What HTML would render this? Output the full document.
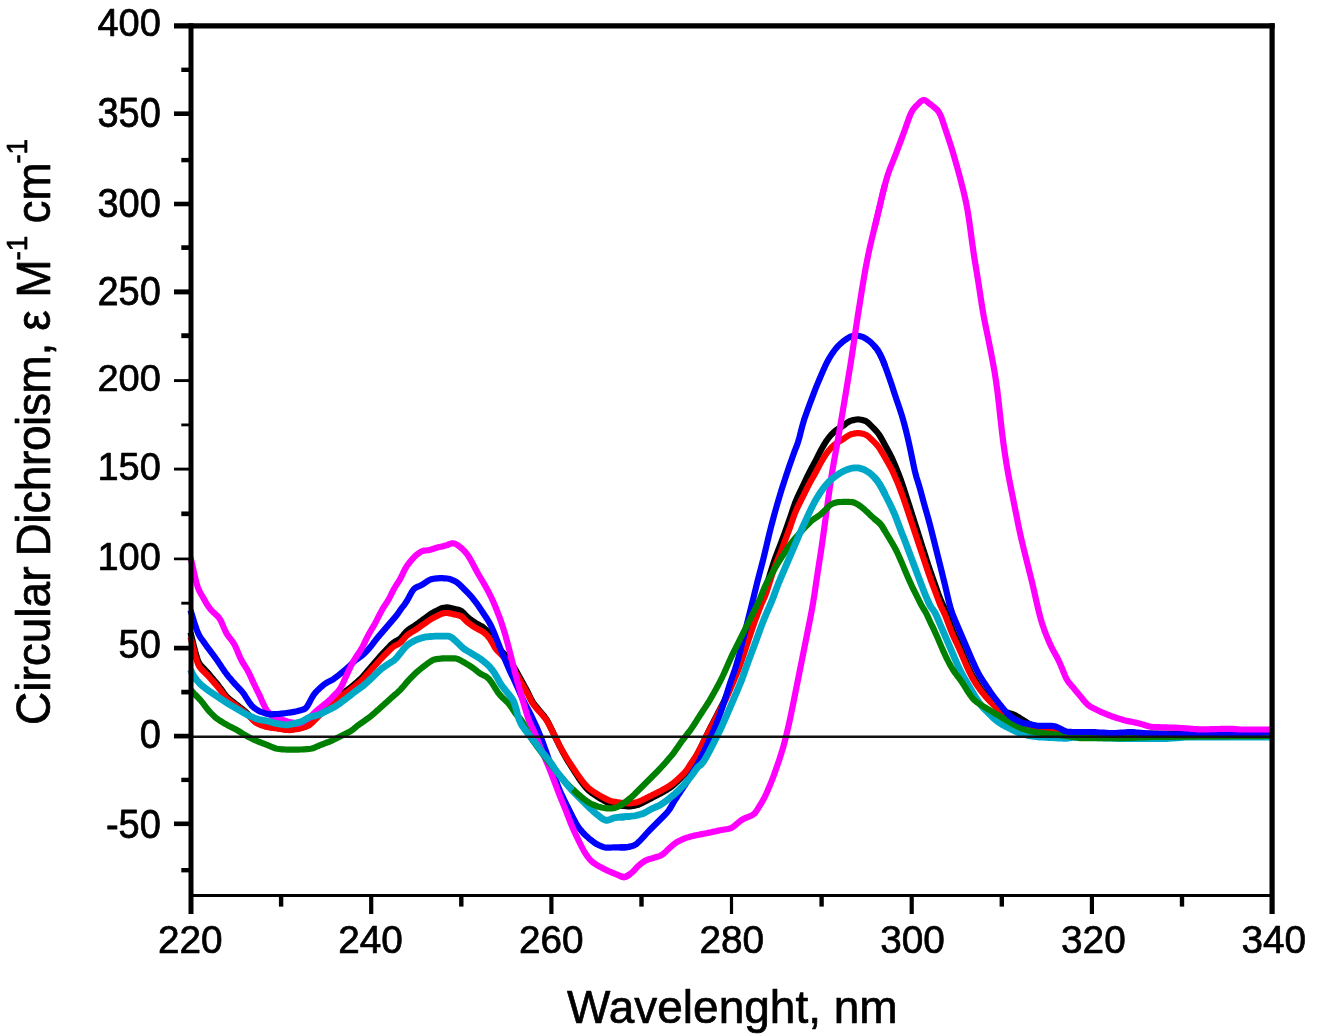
<!DOCTYPE html>
<html lang="en"><head><meta charset="utf-8"><title>Circular Dichroism</title>
<style>html,body{margin:0;padding:0;background:#fff}svg{display:block}</style></head>
<body>
<svg width="1318" height="1036" viewBox="0 0 1318 1036">
<rect width="1318" height="1036" fill="#ffffff"/>
<g fill="none" stroke-width="6.2" stroke-linejoin="round" stroke-linecap="butt">
<polyline stroke="#000000" points="190.5,632.5 192.0,638.6 193.5,644.7 195.0,650.8 196.5,656.3 198.0,660.7 199.5,663.6 201.0,665.6 202.5,667.2 204.0,668.7 205.5,670.3 207.0,671.9 208.5,673.6 210.0,675.4 211.5,677.2 213.0,678.9 214.5,680.7 216.0,682.5 217.5,684.3 219.0,686.3 220.5,688.3 222.0,690.4 223.5,692.6 225.0,694.6 226.5,696.4 228.0,697.8 229.5,699.1 231.0,700.3 232.5,701.4 234.0,702.6 235.5,703.8 237.0,705.0 238.5,706.1 240.0,707.3 241.5,708.5 243.0,709.7 244.5,710.9 246.0,712.2 247.5,713.6 249.0,715.1 250.5,716.7 252.0,718.2 253.5,719.8 255.0,721.2 256.5,722.4 258.0,723.3 259.5,723.9 261.0,724.5 262.5,725.1 264.0,725.7 265.5,726.2 267.0,726.6 268.5,726.9 270.0,727.1 271.5,727.3 273.0,727.5 274.5,727.7 276.0,727.9 277.5,728.1 279.0,728.4 280.5,728.6 282.0,728.9 283.5,729.1 285.0,729.4 286.5,729.6 288.0,729.8 289.5,729.8 291.0,729.7 292.5,729.4 294.0,729.2 295.5,729.0 297.0,728.7 298.5,728.4 300.0,728.1 301.5,727.6 303.0,727.2 304.5,726.7 306.0,726.2 307.5,725.6 309.0,724.8 310.5,723.6 312.0,722.1 313.5,720.5 315.0,719.0 316.5,717.4 318.0,715.8 319.5,714.3 321.0,712.8 322.5,711.4 324.0,710.0 325.5,708.7 327.0,707.4 328.5,706.0 330.0,704.6 331.5,703.0 333.0,701.5 334.5,700.0 336.0,698.5 337.5,697.3 339.0,696.1 340.5,695.1 342.0,694.0 343.5,692.8 345.0,691.7 346.5,690.6 348.0,689.4 349.5,688.3 351.0,687.1 352.5,685.9 354.0,684.7 355.5,683.4 357.0,682.1 358.5,680.7 360.0,679.4 361.5,677.9 363.0,676.3 364.5,674.6 366.0,672.9 367.5,671.1 369.0,669.3 370.5,667.6 372.0,665.8 373.5,664.1 375.0,662.3 376.5,660.6 378.0,658.9 379.5,657.1 381.0,655.4 382.5,653.7 384.0,652.1 385.5,650.5 387.0,648.9 388.5,647.4 390.0,645.8 391.5,644.3 393.0,643.0 394.5,641.9 396.0,641.1 397.5,640.4 399.0,639.5 400.5,638.3 402.0,636.7 403.5,634.8 405.0,633.0 406.5,631.3 408.0,630.0 409.5,628.9 411.0,628.0 412.5,627.0 414.0,626.1 415.5,625.1 417.0,624.0 418.5,622.9 420.0,621.8 421.5,620.7 423.0,619.6 424.5,618.5 426.0,617.4 427.5,616.3 429.0,615.2 430.5,614.2 432.0,613.2 433.5,612.3 435.0,611.5 436.5,610.7 438.0,610.0 439.5,609.2 441.0,608.5 442.5,608.0 444.0,607.7 445.5,607.5 447.0,607.4 448.5,607.6 450.0,607.9 451.5,608.2 453.0,608.6 454.5,608.9 456.0,609.3 457.5,609.6 459.0,610.0 460.5,610.6 462.0,611.5 463.5,612.8 465.0,614.5 466.5,616.1 468.0,617.5 469.5,618.7 471.0,619.8 472.5,620.9 474.0,621.9 475.5,622.9 477.0,623.8 478.5,624.6 480.0,625.4 481.5,626.2 483.0,627.2 484.5,628.4 486.0,629.8 487.5,631.4 489.0,633.2 490.5,635.4 492.0,638.1 493.5,640.9 495.0,643.6 496.5,645.8 498.0,647.6 499.5,649.1 501.0,650.7 502.5,652.3 504.0,653.8 505.5,655.4 507.0,657.1 508.5,658.9 510.0,661.0 511.5,663.2 513.0,665.6 514.5,668.0 516.0,670.6 517.5,673.2 519.0,675.9 520.5,678.7 522.0,681.4 523.5,684.2 525.0,686.9 526.5,689.7 528.0,692.7 529.5,695.8 531.0,698.9 532.5,701.6 534.0,703.9 535.5,705.8 537.0,707.6 538.5,709.4 540.0,711.2 541.5,713.0 543.0,714.8 544.5,716.6 546.0,718.7 547.5,721.2 549.0,724.0 550.5,727.1 552.0,730.2 553.5,733.3 555.0,736.5 556.5,739.6 558.0,742.7 559.5,745.8 561.0,748.7 562.5,751.5 564.0,754.3 565.5,757.0 567.0,759.6 568.5,762.0 570.0,764.4 571.5,766.8 573.0,769.1 574.5,771.5 576.0,773.8 577.5,776.2 579.0,778.5 580.5,780.6 582.0,782.7 583.5,784.7 585.0,786.6 586.5,788.3 588.0,789.8 589.5,791.1 591.0,792.3 592.5,793.5 594.0,794.5 595.5,795.5 597.0,796.5 598.5,797.4 600.0,798.4 601.5,799.3 603.0,800.1 604.5,800.9 606.0,801.7 607.5,802.5 609.0,803.2 610.5,803.8 612.0,804.2 613.5,804.5 615.0,804.8 616.5,805.0 618.0,805.3 619.5,805.5 621.0,805.7 622.5,805.9 624.0,806.0 625.5,806.1 627.0,806.3 628.5,806.4 630.0,806.4 631.5,806.2 633.0,806.0 634.5,805.7 636.0,805.3 637.5,805.0 639.0,804.5 640.5,803.8 642.0,803.1 643.5,802.3 645.0,801.5 646.5,800.7 648.0,799.9 649.5,799.1 651.0,798.4 652.5,797.6 654.0,796.8 655.5,796.0 657.0,795.2 658.5,794.4 660.0,793.7 661.5,792.9 663.0,792.0 664.5,791.2 666.0,790.3 667.5,789.3 669.0,788.4 670.5,787.4 672.0,786.3 673.5,785.1 675.0,783.7 676.5,782.3 678.0,780.9 679.5,779.4 681.0,778.0 682.5,776.4 684.0,774.9 685.5,773.1 687.0,771.2 688.5,768.8 690.0,766.3 691.5,763.9 693.0,761.6 694.5,759.3 696.0,756.8 697.5,754.1 699.0,751.2 700.5,748.1 702.0,745.0 703.5,741.8 705.0,738.7 706.5,735.6 708.0,732.5 709.5,729.5 711.0,726.5 712.5,723.6 714.0,720.7 715.5,717.8 717.0,714.9 718.5,712.0 720.0,709.1 721.5,706.2 723.0,703.3 724.5,700.3 726.0,697.1 727.5,693.7 729.0,690.1 730.5,686.5 732.0,682.8 733.5,679.1 735.0,675.3 736.5,671.5 738.0,667.6 739.5,663.5 741.0,659.2 742.5,654.6 744.0,649.9 745.5,645.2 747.0,640.5 748.5,635.8 750.0,631.1 751.5,626.4 753.0,621.7 754.5,617.2 756.0,612.8 757.5,608.6 759.0,604.4 760.5,600.5 762.0,596.8 763.5,593.4 765.0,589.9 766.5,585.7 768.0,581.0 769.5,575.9 771.0,570.9 772.5,566.1 774.0,561.6 775.5,557.3 777.0,553.3 778.5,549.5 780.0,545.7 781.5,541.7 783.0,537.6 784.5,533.5 786.0,529.3 787.5,525.1 789.0,520.8 790.5,516.4 792.0,511.9 793.5,507.4 795.0,503.2 796.5,499.4 798.0,496.0 799.5,492.9 801.0,489.7 802.5,486.6 804.0,483.5 805.5,480.3 807.0,477.2 808.5,474.1 810.0,471.1 811.5,468.3 813.0,465.6 814.5,462.8 816.0,460.0 817.5,457.0 819.0,453.9 820.5,451.0 822.0,448.2 823.5,445.6 825.0,443.1 826.5,440.8 828.0,438.7 829.5,436.8 831.0,435.0 832.5,433.5 834.0,432.0 835.5,430.7 837.0,429.6 838.5,428.6 840.0,427.7 841.5,426.8 843.0,425.8 844.5,424.8 846.0,423.6 847.5,422.5 849.0,421.6 850.5,420.9 852.0,420.4 853.5,420.1 855.0,419.8 856.5,419.5 858.0,419.4 859.5,419.5 861.0,419.8 862.5,420.1 864.0,420.5 865.5,421.0 867.0,421.9 868.5,423.2 870.0,424.6 871.5,426.1 873.0,427.6 874.5,429.2 876.0,430.8 877.5,432.5 879.0,434.5 880.5,436.9 882.0,439.5 883.5,442.3 885.0,445.0 886.5,447.8 888.0,450.5 889.5,453.3 891.0,456.2 892.5,459.3 894.0,462.7 895.5,466.3 897.0,469.9 898.5,473.7 900.0,477.6 901.5,481.8 903.0,486.3 904.5,490.8 906.0,495.4 907.5,500.1 909.0,504.8 910.5,509.5 912.0,514.2 913.5,518.9 915.0,523.6 916.5,528.3 918.0,533.0 919.5,537.7 921.0,542.4 922.5,547.1 924.0,551.8 925.5,556.5 927.0,561.2 928.5,565.8 930.0,570.3 931.5,574.6 933.0,578.8 934.5,583.0 936.0,587.2 937.5,591.5 939.0,595.7 940.5,599.6 942.0,602.9 943.5,606.0 945.0,609.5 946.5,613.4 948.0,617.5 949.5,621.7 951.0,625.8 952.5,629.7 954.0,633.3 955.5,636.6 957.0,639.9 958.5,643.3 960.0,646.8 961.5,650.4 963.0,654.1 964.5,657.7 966.0,661.3 967.5,664.9 969.0,668.2 970.5,671.4 972.0,674.4 973.5,677.2 975.0,679.7 976.5,682.2 978.0,684.5 979.5,686.7 981.0,688.8 982.5,690.8 984.0,692.7 985.5,694.6 987.0,696.2 988.5,697.8 990.0,699.3 991.5,700.8 993.0,702.3 994.5,703.7 996.0,705.1 997.5,706.5 999.0,707.7 1000.5,708.9 1002.0,710.0 1003.5,711.0 1005.0,711.7 1006.5,712.3 1008.0,712.7 1009.5,713.2 1011.0,713.6 1012.5,714.1 1014.0,714.7 1015.5,715.4 1017.0,716.3 1018.5,717.2 1020.0,718.2 1021.5,719.1 1023.0,720.0 1024.5,721.0 1026.0,721.9 1027.5,722.8 1029.0,723.7 1030.5,724.4 1032.0,725.0 1033.5,725.6 1035.0,726.1 1036.5,726.6 1038.0,727.2 1039.5,727.7 1041.0,728.2 1042.5,728.7 1044.0,729.2 1045.5,729.7 1047.0,730.2 1048.5,730.5 1050.0,730.9 1051.5,731.2 1053.0,731.5 1054.5,731.8 1056.0,732.2 1057.5,732.5 1059.0,732.8 1060.5,733.1 1062.0,733.4 1063.5,733.7 1065.0,734.0 1066.5,734.1 1068.0,734.0 1069.5,733.9 1071.0,733.7 1072.5,733.6 1074.0,733.4 1075.5,733.3 1077.0,733.3 1078.5,733.3 1080.0,733.3 1081.5,733.3 1083.0,733.3 1084.5,733.3 1086.0,733.3 1087.5,733.3 1089.0,733.4 1090.5,733.4 1092.0,733.4 1093.5,733.4 1095.0,733.4 1096.5,733.4 1098.0,733.4 1099.5,733.5 1101.0,733.5 1102.5,733.5 1104.0,733.5 1105.5,733.5 1107.0,733.5 1108.5,733.6 1110.0,733.6 1111.5,733.6 1113.0,733.6 1114.5,733.6 1116.0,733.6 1117.5,733.6 1119.0,733.7 1120.5,733.7 1122.0,733.7 1123.5,733.7 1125.0,733.7 1126.5,733.7 1128.0,733.7 1129.5,733.7 1131.0,733.7 1132.5,733.7 1134.0,733.7 1135.5,733.7 1137.0,733.7 1138.5,733.7 1140.0,733.7 1141.5,733.7 1143.0,733.7 1144.5,733.7 1146.0,733.7 1147.5,733.7 1149.0,733.7 1150.5,733.7 1152.0,733.7 1153.5,733.7 1155.0,733.7 1156.5,733.7 1158.0,733.7 1159.5,733.7 1161.0,733.7 1162.5,733.7 1164.0,733.7 1165.5,733.7 1167.0,733.7 1168.5,733.7 1170.0,733.7 1171.5,733.7 1173.0,733.7 1174.5,733.7 1176.0,733.7 1177.5,733.7 1179.0,733.7 1180.5,733.7 1182.0,733.7 1183.5,733.7 1185.0,733.7 1186.5,733.7 1188.0,733.7 1189.5,733.7 1191.0,733.7 1192.5,733.7 1194.0,733.7 1195.5,733.7 1197.0,733.7 1198.5,733.7 1200.0,733.7 1201.5,733.7 1203.0,733.7 1204.5,733.7 1206.0,733.7 1207.5,733.7 1209.0,733.7 1210.5,733.7 1212.0,733.7 1213.5,733.7 1215.0,733.7 1216.5,733.7 1218.0,733.7 1219.5,733.7 1221.0,733.7 1222.5,733.7 1224.0,733.7 1225.5,733.7 1227.0,733.7 1228.5,733.7 1230.0,733.7 1231.5,733.7 1233.0,733.7 1234.5,733.8 1236.0,733.8 1237.5,733.8 1239.0,733.8 1240.5,733.8 1242.0,733.8 1243.5,733.8 1245.0,733.8 1246.5,733.8 1248.0,733.8 1249.5,733.9 1251.0,733.9 1252.5,733.9 1254.0,733.9 1255.5,733.9 1257.0,733.9 1258.5,733.9 1260.0,733.9 1261.5,733.9 1263.0,733.9 1264.5,734.0 1266.0,734.0 1267.5,734.0 1269.0,734.0 1270.5,734.0"/>
<polyline stroke="#ff0000" points="190.5,636.9 192.0,642.8 193.5,648.7 195.0,654.5 196.5,659.8 198.0,664.0 199.5,666.8 201.0,668.7 202.5,670.2 204.0,671.7 205.5,673.2 207.0,674.7 208.5,676.3 210.0,678.0 211.5,679.7 213.0,681.4 214.5,683.1 216.0,684.8 217.5,686.6 219.0,688.4 220.5,690.3 222.0,692.4 223.5,694.4 225.0,696.4 226.5,698.1 228.0,699.5 229.5,700.7 231.0,701.8 232.5,702.9 234.0,704.1 235.5,705.2 237.0,706.3 238.5,707.4 240.0,708.6 241.5,709.7 243.0,710.8 244.5,712.0 246.0,713.2 247.5,714.6 249.0,716.0 250.5,717.5 252.0,719.0 253.5,720.5 255.0,721.9 256.5,723.0 258.0,723.8 259.5,724.5 261.0,725.0 262.5,725.6 264.0,726.1 265.5,726.6 267.0,727.0 268.5,727.3 270.0,727.5 271.5,727.7 273.0,727.9 274.5,728.1 276.0,728.3 277.5,728.5 279.0,728.7 280.5,728.9 282.0,729.2 283.5,729.4 285.0,729.7 286.5,729.9 288.0,730.0 289.5,730.1 291.0,729.9 292.5,729.7 294.0,729.5 295.5,729.3 297.0,729.1 298.5,728.8 300.0,728.4 301.5,728.0 303.0,727.6 304.5,727.1 306.0,726.7 307.5,726.1 309.0,725.3 310.5,724.1 312.0,722.7 313.5,721.2 315.0,719.7 316.5,718.2 318.0,716.7 319.5,715.2 321.0,713.8 322.5,712.4 324.0,711.1 325.5,709.9 327.0,708.6 328.5,707.3 330.0,705.9 331.5,704.5 333.0,703.0 334.5,701.5 336.0,700.2 337.5,699.0 339.0,697.9 340.5,696.8 342.0,695.8 343.5,694.7 345.0,693.6 346.5,692.5 348.0,691.4 349.5,690.3 351.0,689.2 352.5,688.1 354.0,686.9 355.5,685.7 357.0,684.4 358.5,683.1 360.0,681.8 361.5,680.4 363.0,678.9 364.5,677.3 366.0,675.6 367.5,673.9 369.0,672.2 370.5,670.5 372.0,668.9 373.5,667.2 375.0,665.5 376.5,663.9 378.0,662.2 379.5,660.5 381.0,658.9 382.5,657.3 384.0,655.7 385.5,654.2 387.0,652.7 388.5,651.2 390.0,649.7 391.5,648.3 393.0,647.0 394.5,646.0 396.0,645.2 397.5,644.5 399.0,643.7 400.5,642.5 402.0,641.0 403.5,639.2 405.0,637.4 406.5,635.9 408.0,634.6 409.5,633.6 411.0,632.6 412.5,631.7 414.0,630.8 415.5,629.9 417.0,628.8 418.5,627.8 420.0,626.8 421.5,625.7 423.0,624.7 424.5,623.6 426.0,622.6 427.5,621.5 429.0,620.5 430.5,619.5 432.0,618.5 433.5,617.7 435.0,616.9 436.5,616.2 438.0,615.4 439.5,614.7 441.0,614.0 442.5,613.5 444.0,613.2 445.5,613.0 447.0,613.0 448.5,613.1 450.0,613.4 451.5,613.7 453.0,614.1 454.5,614.4 456.0,614.7 457.5,615.1 459.0,615.4 460.5,616.0 462.0,616.8 463.5,618.2 465.0,619.7 466.5,621.3 468.0,622.6 469.5,623.7 471.0,624.8 472.5,625.9 474.0,626.9 475.5,627.8 477.0,628.6 478.5,629.4 480.0,630.1 481.5,631.0 483.0,631.9 484.5,633.1 486.0,634.4 487.5,635.9 489.0,637.7 490.5,639.8 492.0,642.3 493.5,645.0 495.0,647.6 496.5,649.7 498.0,651.4 499.5,652.9 501.0,654.4 502.5,655.9 504.0,657.4 505.5,658.9 507.0,660.5 508.5,662.2 510.0,664.2 511.5,666.4 513.0,668.6 514.5,671.0 516.0,673.4 517.5,675.9 519.0,678.5 520.5,681.2 522.0,683.8 523.5,686.4 525.0,689.0 526.5,691.7 528.0,694.5 529.5,697.5 531.0,700.5 532.5,703.1 534.0,705.3 535.5,707.1 537.0,708.9 538.5,710.6 540.0,712.3 541.5,714.0 543.0,715.7 544.5,717.5 546.0,719.5 547.5,721.8 549.0,724.5 550.5,727.5 552.0,730.5 553.5,733.5 555.0,736.5 556.5,739.5 558.0,742.4 559.5,745.4 561.0,748.2 562.5,750.9 564.0,753.5 565.5,756.1 567.0,758.6 568.5,760.9 570.0,763.2 571.5,765.5 573.0,767.7 574.5,770.0 576.0,772.2 577.5,774.4 579.0,776.6 580.5,778.7 582.0,780.7 583.5,782.6 585.0,784.4 586.5,786.1 588.0,787.5 589.5,788.8 591.0,789.9 592.5,791.0 594.0,792.0 595.5,793.0 597.0,793.9 598.5,794.8 600.0,795.7 601.5,796.6 603.0,797.4 604.5,798.1 606.0,798.9 607.5,799.6 609.0,800.3 610.5,800.9 612.0,801.3 613.5,801.6 615.0,801.8 616.5,802.1 618.0,802.3 619.5,802.5 621.0,802.7 622.5,802.9 624.0,803.0 625.5,803.1 627.0,803.3 628.5,803.3 630.0,803.3 631.5,803.2 633.0,803.0 634.5,802.7 636.0,802.4 637.5,802.0 639.0,801.5 640.5,800.9 642.0,800.2 643.5,799.4 645.0,798.7 646.5,797.9 648.0,797.2 649.5,796.4 651.0,795.7 652.5,794.9 654.0,794.2 655.5,793.4 657.0,792.7 658.5,791.9 660.0,791.2 661.5,790.4 663.0,789.6 664.5,788.8 666.0,787.9 667.5,787.1 669.0,786.2 670.5,785.2 672.0,784.2 673.5,783.0 675.0,781.7 676.5,780.3 678.0,779.0 679.5,777.6 681.0,776.2 682.5,774.7 684.0,773.2 685.5,771.6 687.0,769.7 688.5,767.4 690.0,765.0 691.5,762.7 693.0,760.5 694.5,758.3 696.0,756.0 697.5,753.4 699.0,750.5 700.5,747.6 702.0,744.6 703.5,741.6 705.0,738.6 706.5,735.6 708.0,732.7 709.5,729.8 711.0,727.0 712.5,724.2 714.0,721.4 715.5,718.6 717.0,715.8 718.5,713.0 720.0,710.3 721.5,707.5 723.0,704.7 724.5,701.8 726.0,698.8 727.5,695.5 729.0,692.1 730.5,688.6 732.0,685.1 733.5,681.5 735.0,677.9 736.5,674.3 738.0,670.6 739.5,666.7 741.0,662.5 742.5,658.1 744.0,653.6 745.5,649.1 747.0,644.6 748.5,640.1 750.0,635.6 751.5,631.1 753.0,626.6 754.5,622.3 756.0,618.1 757.5,614.1 759.0,610.1 760.5,606.3 762.0,602.8 763.5,599.6 765.0,596.2 766.5,592.2 768.0,587.6 769.5,582.8 771.0,578.1 772.5,573.5 774.0,569.1 775.5,565.0 777.0,561.2 778.5,557.6 780.0,553.9 781.5,550.1 783.0,546.2 784.5,542.2 786.0,538.2 787.5,534.2 789.0,530.1 790.5,525.9 792.0,521.6 793.5,517.2 795.0,513.2 796.5,509.6 798.0,506.4 799.5,503.4 801.0,500.4 802.5,497.4 804.0,494.4 805.5,491.4 807.0,488.4 808.5,485.4 810.0,482.5 811.5,479.8 813.0,477.2 814.5,474.6 816.0,471.9 817.5,469.0 819.0,466.1 820.5,463.3 822.0,460.6 823.5,458.1 825.0,455.8 826.5,453.6 828.0,451.5 829.5,449.7 831.0,448.0 832.5,446.5 834.0,445.2 835.5,443.9 837.0,442.8 838.5,441.8 840.0,441.0 841.5,440.2 843.0,439.2 844.5,438.2 846.0,437.1 847.5,436.1 849.0,435.2 850.5,434.5 852.0,434.0 853.5,433.7 855.0,433.4 856.5,433.2 858.0,433.1 859.5,433.2 861.0,433.4 862.5,433.7 864.0,434.1 865.5,434.6 867.0,435.5 868.5,436.6 870.0,438.0 871.5,439.4 873.0,440.9 874.5,442.4 876.0,443.9 877.5,445.6 879.0,447.5 880.5,449.8 882.0,452.3 883.5,454.9 885.0,457.6 886.5,460.2 888.0,462.8 889.5,465.5 891.0,468.2 892.5,471.2 894.0,474.5 895.5,477.9 897.0,481.4 898.5,485.0 900.0,488.8 901.5,492.8 903.0,497.0 904.5,501.4 906.0,505.8 907.5,510.3 909.0,514.8 910.5,519.3 912.0,523.8 913.5,528.3 915.0,532.8 916.5,537.3 918.0,541.8 919.5,546.3 921.0,550.8 922.5,555.3 924.0,559.8 925.5,564.3 927.0,568.8 928.5,573.2 930.0,577.4 931.5,581.6 933.0,585.6 934.5,589.6 936.0,593.6 937.5,597.7 939.0,601.7 940.5,605.5 942.0,608.6 943.5,611.6 945.0,614.9 946.5,618.6 948.0,622.6 949.5,626.6 951.0,630.6 952.5,634.3 954.0,637.7 955.5,640.9 957.0,644.0 958.5,647.3 960.0,650.6 961.5,654.1 963.0,657.6 964.5,661.1 966.0,664.6 967.5,667.9 969.0,671.2 970.5,674.2 972.0,677.1 973.5,679.7 975.0,682.2 976.5,684.5 978.0,686.7 979.5,688.8 981.0,690.8 982.5,692.8 984.0,694.6 985.5,696.4 987.0,698.1 988.5,699.7 990.0,701.2 991.5,702.7 993.0,704.2 994.5,705.7 996.0,707.2 997.5,708.7 999.0,710.2 1000.5,711.7 1002.0,713.2 1003.5,714.7 1005.0,716.2 1006.5,717.5 1008.0,718.8 1009.5,719.9 1011.0,721.0 1012.5,722.0 1014.0,722.8 1015.5,723.4 1017.0,723.9 1018.5,724.4 1020.0,724.9 1021.5,725.4 1023.0,725.9 1024.5,726.3 1026.0,726.7 1027.5,727.0 1029.0,727.4 1030.5,727.8 1032.0,728.1 1033.5,728.4 1035.0,728.7 1036.5,728.9 1038.0,729.1 1039.5,729.2 1041.0,729.4 1042.5,729.6 1044.0,729.8 1045.5,730.0 1047.0,730.2 1048.5,730.5 1050.0,730.7 1051.5,731.0 1053.0,731.2 1054.5,731.5 1056.0,731.7 1057.5,732.0 1059.0,732.2 1060.5,732.5 1062.0,732.8 1063.5,733.0 1065.0,733.2 1066.5,733.4 1068.0,733.5 1069.5,733.6 1071.0,733.6 1072.5,733.6 1074.0,733.7 1075.5,733.7 1077.0,733.8 1078.5,733.8 1080.0,733.9 1081.5,733.9 1083.0,734.0 1084.5,734.0 1086.0,734.0 1087.5,734.1 1089.0,734.1 1090.5,734.2 1092.0,734.2 1093.5,734.3 1095.0,734.3 1096.5,734.4 1098.0,734.4 1099.5,734.4 1101.0,734.5 1102.5,734.5 1104.0,734.5 1105.5,734.6 1107.0,734.6 1108.5,734.6 1110.0,734.6 1111.5,734.6 1113.0,734.7 1114.5,734.7 1116.0,734.7 1117.5,734.7 1119.0,734.8 1120.5,734.8 1122.0,734.8 1123.5,734.8 1125.0,734.8 1126.5,734.9 1128.0,734.9 1129.5,734.9 1131.0,734.9 1132.5,735.0 1134.0,735.0 1135.5,735.0 1137.0,735.0 1138.5,735.0 1140.0,735.1 1141.5,735.1 1143.0,735.1 1144.5,735.1 1146.0,735.2 1147.5,735.2 1149.0,735.2 1150.5,735.2 1152.0,735.2 1153.5,735.2 1155.0,735.2 1156.5,735.2 1158.0,735.2 1159.5,735.2 1161.0,735.2 1162.5,735.2 1164.0,735.2 1165.5,735.2 1167.0,735.2 1168.5,735.2 1170.0,735.2 1171.5,735.2 1173.0,735.2 1174.5,735.2 1176.0,735.2 1177.5,735.2 1179.0,735.2 1180.5,735.2 1182.0,735.2 1183.5,735.2 1185.0,735.2 1186.5,735.2 1188.0,735.2 1189.5,735.2 1191.0,735.2 1192.5,735.2 1194.0,735.2 1195.5,735.2 1197.0,735.2 1198.5,735.2 1200.0,735.2 1201.5,735.2 1203.0,735.2 1204.5,735.2 1206.0,735.2 1207.5,735.2 1209.0,735.2 1210.5,735.2 1212.0,735.2 1213.5,735.2 1215.0,735.2 1216.5,735.2 1218.0,735.2 1219.5,735.2 1221.0,735.2 1222.5,735.2 1224.0,735.2 1225.5,735.2 1227.0,735.2 1228.5,735.2 1230.0,735.2 1231.5,735.3 1233.0,735.3 1234.5,735.3 1236.0,735.3 1237.5,735.4 1239.0,735.4 1240.5,735.4 1242.0,735.5 1243.5,735.5 1245.0,735.5 1246.5,735.5 1248.0,735.6 1249.5,735.6 1251.0,735.6 1252.5,735.6 1254.0,735.7 1255.5,735.7 1257.0,735.7 1258.5,735.8 1260.0,735.8 1261.5,735.8 1263.0,735.8 1264.5,735.9 1266.0,735.9 1267.5,735.9 1269.0,735.9 1270.5,736.0"/>
<polyline stroke="#ff00ff" points="190.5,557.6 192.0,563.5 193.5,570.1 195.0,576.9 196.5,583.1 198.0,587.8 199.5,591.2 201.0,593.9 202.5,596.5 204.0,599.1 205.5,601.8 207.0,604.3 208.5,606.7 210.0,608.7 211.5,610.4 213.0,611.9 214.5,613.3 216.0,614.7 217.5,616.1 219.0,617.8 220.5,620.2 222.0,623.3 223.5,626.9 225.0,630.4 226.5,633.4 228.0,635.7 229.5,637.7 231.0,639.5 232.5,641.5 234.0,643.8 235.5,646.7 237.0,650.1 238.5,653.7 240.0,657.2 241.5,660.4 243.0,663.0 244.5,665.4 246.0,667.7 247.5,670.3 249.0,673.2 250.5,676.3 252.0,679.6 253.5,682.9 255.0,686.0 256.5,689.1 258.0,692.1 259.5,695.2 261.0,698.6 262.5,702.1 264.0,705.3 265.5,708.1 267.0,710.4 268.5,712.2 270.0,714.0 271.5,715.5 273.0,716.7 274.5,717.4 276.0,718.0 277.5,718.4 279.0,718.8 280.5,719.3 282.0,719.7 283.5,720.2 285.0,720.7 286.5,721.2 288.0,721.7 289.5,722.0 291.0,722.4 292.5,722.6 294.0,722.9 295.5,723.2 297.0,723.3 298.5,723.3 300.0,722.9 301.5,722.3 303.0,721.5 304.5,720.7"/>
<polyline stroke="#0000ff" points="190.5,610.2 192.0,614.9 193.5,619.8 195.0,624.6 196.5,629.1 198.0,633.0 199.5,635.9 201.0,638.2 202.5,640.3 204.0,642.4 205.5,644.5 207.0,646.6 208.5,648.6 210.0,650.6 211.5,652.6 213.0,654.6 214.5,656.6 216.0,658.7 217.5,660.8 219.0,663.1 220.5,665.3 222.0,667.6 223.5,669.8 225.0,672.0 226.5,674.0 228.0,675.9 229.5,677.7 231.0,679.4 232.5,681.2 234.0,682.9 235.5,684.6 237.0,686.2 238.5,687.8 240.0,689.3 241.5,690.9 243.0,692.8 244.5,694.9 246.0,697.3 247.5,699.7 249.0,702.0 250.5,704.1 252.0,705.9 253.5,707.3 255.0,708.5 256.5,709.5 258.0,710.5 259.5,711.3 261.0,711.9 262.5,712.4 264.0,712.9 265.5,713.4 267.0,713.8 268.5,714.2 270.0,714.3 271.5,714.3 273.0,714.2 274.5,714.1 276.0,714.0 277.5,714.0 279.0,713.9 280.5,713.7 282.0,713.6 283.5,713.4 285.0,713.2 286.5,713.0 288.0,712.8 289.5,712.6 291.0,712.4 292.5,712.1 294.0,711.9 295.5,711.5 297.0,711.2 298.5,710.8 300.0,710.4 301.5,710.0 303.0,709.6 304.5,709.0 306.0,707.9 307.5,705.9 309.0,703.3 310.5,700.4 312.0,697.6 313.5,695.1 315.0,693.1 316.5,691.4 318.0,689.9 319.5,688.5 321.0,687.1 322.5,685.8 324.0,684.5 325.5,683.5 327.0,682.6 328.5,681.8 330.0,681.0 331.5,680.2 333.0,679.4 334.5,678.3 336.0,677.2 337.5,676.1 339.0,674.9 340.5,673.7 342.0,672.5 343.5,671.2 345.0,670.0 346.5,668.7 348.0,667.3 349.5,665.9 351.0,664.4 352.5,662.9 354.0,661.5 355.5,660.3 357.0,659.2 358.5,658.2 360.0,657.1 361.5,656.0 363.0,654.7 364.5,653.3 366.0,651.8 367.5,650.3 369.0,648.6 370.5,646.8 372.0,644.9 373.5,642.9 375.0,640.9 376.5,639.0 378.0,637.1 379.5,635.4 381.0,633.6 382.5,631.9 384.0,630.1 385.5,628.4 387.0,626.6 388.5,624.9 390.0,623.1 391.5,621.4 393.0,619.6 394.5,617.9 396.0,616.1 397.5,614.1 399.0,612.0 400.5,609.8 402.0,607.7 403.5,605.8 405.0,603.8 406.5,601.6 408.0,599.0 409.5,596.2 411.0,593.3 412.5,590.8 414.0,588.9 415.5,587.8 417.0,587.0 418.5,586.4 420.0,585.8 421.5,585.0 423.0,584.2 424.5,583.2 426.0,582.1 427.5,581.1 429.0,580.2 430.5,579.5 432.0,579.1 433.5,578.8 435.0,578.6 436.5,578.4 438.0,578.3 439.5,578.2 441.0,578.2 442.5,578.2 444.0,578.3 445.5,578.4 447.0,578.5 448.5,578.7 450.0,579.1 451.5,579.7 453.0,580.3 454.5,580.9 456.0,581.7 457.5,582.8 459.0,584.1 460.5,585.5 462.0,587.0 463.5,588.5 465.0,590.0 466.5,591.5 468.0,593.0 469.5,594.6 471.0,596.3 472.5,598.1 474.0,600.0 475.5,601.9 477.0,603.9 478.5,606.0 480.0,608.3 481.5,610.5 483.0,612.8 484.5,615.0 486.0,617.3 487.5,619.5 489.0,622.0 490.5,624.7 492.0,627.9 493.5,631.3 495.0,635.0 496.5,638.8 498.0,642.7 499.5,646.5 501.0,650.3 502.5,653.9 504.0,657.4 505.5,660.9 507.0,664.4 508.5,667.9 510.0,671.2 511.5,674.4 513.0,677.5 514.5,680.6 516.0,683.9 517.5,687.3 519.0,690.7 520.5,694.2 522.0,697.5 523.5,700.7 525.0,703.6 526.5,706.4 528.0,709.3 529.5,712.2 531.0,715.2 532.5,718.3 534.0,721.5 535.5,724.7 537.0,728.1 538.5,731.6 540.0,735.2 541.5,739.0 543.0,743.1 544.5,747.2 546.0,751.4 547.5,755.7 549.0,760.1 550.5,764.6 552.0,769.1 553.5,773.6 555.0,778.0 556.5,782.2 558.0,786.1 559.5,789.8 561.0,793.2 562.5,796.4 564.0,799.5 565.5,802.6 567.0,805.6 568.5,808.6 570.0,811.6 571.5,814.6 573.0,817.6 574.5,820.5 576.0,823.3 577.5,825.7 579.0,827.9 580.5,829.8 582.0,831.6 583.5,833.3 585.0,834.8 586.5,836.2 588.0,837.5 589.5,838.8 591.0,840.0 592.5,841.2 594.0,842.3 595.5,843.3 597.0,844.3 598.5,845.1 600.0,845.7 601.5,846.3 603.0,846.9 604.5,847.3 606.0,847.6 607.5,847.7 609.0,847.6 610.5,847.6 612.0,847.5 613.5,847.4 615.0,847.4 616.5,847.3 618.0,847.3 619.5,847.3 621.0,847.3 622.5,847.3 624.0,847.3 625.5,847.3 627.0,847.1 628.5,846.9 630.0,846.6"/>
<polyline stroke="#ff00ff" points="294.0,722.9 295.5,723.2 297.0,723.3 298.5,723.3 300.0,722.9 301.5,722.3 303.0,721.5 304.5,720.7 306.0,719.9 307.5,719.0 309.0,717.9 310.5,716.6 312.0,715.2 313.5,713.7 315.0,712.2 316.5,710.8 318.0,709.5 319.5,708.3 321.0,707.1 322.5,705.9 324.0,704.7 325.5,703.5 327.0,702.3 328.5,701.0 330.0,699.6 331.5,698.1 333.0,696.5 334.5,695.0 336.0,693.5 337.5,692.1 339.0,690.3 340.5,688.1 342.0,685.3 343.5,682.1 345.0,678.7 346.5,675.4 348.0,672.1 349.5,668.9 351.0,665.8 352.5,663.0 354.0,660.3 355.5,657.9 357.0,655.5 358.5,653.4 360.0,651.2 361.5,648.7 363.0,645.9 364.5,642.8 366.0,639.6 367.5,636.6 369.0,633.8 370.5,631.2 372.0,628.7 373.5,626.2 375.0,623.5 376.5,620.6 378.0,617.6 379.5,614.7 381.0,611.9 382.5,609.2 384.0,606.7 385.5,604.4 387.0,602.1 388.5,599.7 390.0,596.9 391.5,593.9 393.0,590.8 394.5,588.0 396.0,585.5 397.5,583.3 399.0,581.0 400.5,578.4 402.0,575.3 403.5,572.1 405.0,569.1 406.5,566.6 408.0,564.4 409.5,562.5 411.0,560.6 412.5,558.9 414.0,557.2 415.5,555.7 417.0,554.5 418.5,553.3 420.0,552.3 421.5,551.4 423.0,550.9 424.5,550.6 426.0,550.5 427.5,550.3 429.0,550.1 430.5,549.7 432.0,549.3 433.5,548.8 435.0,548.2 436.5,547.7 438.0,547.3 439.5,547.0 441.0,546.7 442.5,546.4 444.0,546.0 445.5,545.6 447.0,545.1 448.5,544.5 450.0,543.9 451.5,543.4 453.0,543.2 454.5,543.5 456.0,544.2 457.5,545.1 459.0,546.1 460.5,547.3 462.0,548.6 463.5,550.1 465.0,551.7 466.5,553.5 468.0,555.5 469.5,557.9 471.0,560.5 472.5,563.2 474.0,566.1 475.5,569.0 477.0,571.8 478.5,574.5 480.0,577.0 481.5,579.5 483.0,582.0 484.5,584.6 486.0,587.2 487.5,589.9 489.0,592.8 490.5,595.8 492.0,599.0 493.5,602.3 495.0,605.8 496.5,609.5 498.0,613.3 499.5,617.2 501.0,621.4 502.5,625.9 504.0,630.6 505.5,635.7 507.0,641.1 508.5,646.7 510.0,652.6 511.5,658.6 513.0,664.6 514.5,670.6 516.0,676.5 517.5,682.1 519.0,687.5 520.5,692.7 522.0,697.8 523.5,702.9 525.0,708.0 526.5,713.1 528.0,717.8 529.5,721.8 531.0,725.2 532.5,728.3 534.0,731.4 535.5,734.9 537.0,738.6 538.5,742.5 540.0,746.3 541.5,750.0 543.0,753.5 544.5,757.0 546.0,760.5 547.5,764.0 549.0,767.6 550.5,771.3 552.0,775.2 553.5,779.2 555.0,783.2 556.5,787.2 558.0,791.1 559.5,795.0 561.0,798.8 562.5,802.4 564.0,806.0 565.5,809.7 567.0,813.5 568.5,817.4 570.0,821.3 571.5,825.0 573.0,828.5 574.5,831.9 576.0,835.1 577.5,838.2 579.0,841.3 580.5,844.3 582.0,847.3 583.5,850.2 585.0,852.8 586.5,855.1 588.0,857.1 589.5,859.0 591.0,860.7 592.5,862.1 594.0,863.2 595.5,864.2 597.0,865.1 598.5,866.0 600.0,866.8 601.5,867.6 603.0,868.4 604.5,869.1 606.0,869.9 607.5,870.6 609.0,871.3 610.5,871.9 612.0,872.6 613.5,873.2 615.0,873.8 616.5,874.4 618.0,875.0 619.5,875.7 621.0,876.3 622.5,876.9 624.0,877.1 625.5,876.8 627.0,876.1 628.5,875.2 630.0,874.1"/>
<polyline stroke="#008000" points="190.5,689.6 192.0,691.2 193.5,692.9 195.0,694.5 196.5,696.0 198.0,697.5 199.5,699.1 201.0,700.8 202.5,702.7 204.0,704.6 205.5,706.6 207.0,708.6 208.5,710.4 210.0,712.1 211.5,713.6 213.0,715.1 214.5,716.6 216.0,717.9 217.5,719.0 219.0,720.1 220.5,721.0 222.0,721.9 223.5,722.9 225.0,723.8 226.5,724.6 228.0,725.4 229.5,726.2 231.0,726.9 232.5,727.7 234.0,728.5 235.5,729.3 237.0,730.1 238.5,731.0 240.0,731.9 241.5,732.9 243.0,733.8 244.5,734.7 246.0,735.6 247.5,736.4 249.0,737.2 250.5,738.0 252.0,738.7 253.5,739.4 255.0,740.2 256.5,740.8 258.0,741.5 259.5,742.0 261.0,742.6 262.5,743.2 264.0,743.7 265.5,744.3 267.0,744.9 268.5,745.5 270.0,746.2 271.5,746.8 273.0,747.4 274.5,748.0 276.0,748.5 277.5,748.8 279.0,749.0 280.5,749.2 282.0,749.3 283.5,749.4 285.0,749.5 286.5,749.6 288.0,749.6 289.5,749.6 291.0,749.6 292.5,749.6 294.0,749.6 295.5,749.6 297.0,749.6 298.5,749.6 300.0,749.5 301.5,749.5 303.0,749.4 304.5,749.3 306.0,749.2 307.5,749.1 309.0,749.0 310.5,748.8 312.0,748.5 313.5,748.0 315.0,747.4 316.5,746.7 318.0,746.1 319.5,745.4 321.0,744.8 322.5,744.2 324.0,743.7 325.5,743.1 327.0,742.5 328.5,742.0 330.0,741.4 331.5,740.8 333.0,740.1 334.5,739.3 336.0,738.6 337.5,737.8 339.0,737.1 340.5,736.3 342.0,735.6 343.5,734.8 345.0,734.1 346.5,733.3 348.0,732.6 349.5,731.8 351.0,730.9 352.5,729.8 354.0,728.6 355.5,727.3 357.0,726.1 358.5,725.0 360.0,723.9 361.5,722.9 363.0,721.8 364.5,720.8 366.0,719.7 367.5,718.7 369.0,717.6 370.5,716.5 372.0,715.2 373.5,713.9 375.0,712.6 376.5,711.2 378.0,709.9 379.5,708.5 381.0,707.2 382.5,705.8 384.0,704.5 385.5,703.1 387.0,701.8 388.5,700.4 390.0,699.1 391.5,697.7 393.0,696.4 394.5,695.0 396.0,693.8 397.5,692.5 399.0,691.1 400.5,689.6 402.0,687.9 403.5,686.2 405.0,684.4 406.5,682.6 408.0,680.9 409.5,679.2 411.0,677.7 412.5,676.2 414.0,674.7 415.5,673.2 417.0,671.9 418.5,670.6 420.0,669.4 421.5,668.2 423.0,667.0 424.5,665.8 426.0,664.7 427.5,663.6 429.0,662.5 430.5,661.5 432.0,660.6 433.5,659.8 435.0,659.4 436.5,659.1 438.0,658.9 439.5,658.8 441.0,658.6 442.5,658.4 444.0,658.4 445.5,658.3 447.0,658.3 448.5,658.3 450.0,658.3 451.5,658.3 453.0,658.3 454.5,658.3 456.0,658.5 457.5,658.9 459.0,659.6 460.5,660.3 462.0,661.2 463.5,662.0 465.0,662.9 466.5,663.8 468.0,664.7 469.5,665.6 471.0,666.6 472.5,667.6 474.0,668.7 475.5,669.9 477.0,671.1 478.5,672.3 480.0,673.3 481.5,674.3 483.0,675.1 484.5,675.8 486.0,676.6 487.5,677.7 489.0,679.1 490.5,680.9 492.0,683.1 493.5,685.4 495.0,687.8 496.5,690.2 498.0,692.5 499.5,694.4 501.0,696.1 502.5,697.7 504.0,699.1 505.5,700.5 507.0,701.9 508.5,703.5 510.0,705.4 511.5,707.6 513.0,709.9 514.5,712.1 516.0,714.1 517.5,715.9 519.0,717.4 520.5,719.1 522.0,721.2 523.5,723.7 525.0,726.6 526.5,729.6 528.0,732.5 529.5,735.3 531.0,737.8 532.5,740.1 534.0,742.2 535.5,744.3 537.0,746.4 538.5,748.5 540.0,750.5 541.5,752.5 543.0,754.5 544.5,756.5 546.0,758.5 547.5,760.5 549.0,762.4 550.5,764.2 552.0,766.0 553.5,767.8 555.0,769.6 556.5,771.4 558.0,773.2 559.5,775.0 561.0,776.8 562.5,778.6 564.0,780.4 565.5,782.1 567.0,783.6 568.5,785.2 570.0,786.7 571.5,788.2 573.0,789.6 574.5,791.0 576.0,792.4 577.5,793.8 579.0,795.1 580.5,796.4 582.0,797.7 583.5,798.8"/>
<polyline stroke="#00a8c8" stroke-width="6.8" points="190.5,669.5 192.0,672.8 193.5,675.6 195.0,677.9 196.5,679.9 198.0,681.6 199.5,683.3 201.0,684.7 202.5,686.0 204.0,687.2 205.5,688.3 207.0,689.5 208.5,690.6 210.0,691.6 211.5,692.6 213.0,693.6 214.5,694.6 216.0,695.6 217.5,696.6 219.0,697.6 220.5,698.6 222.0,699.6 223.5,700.6 225.0,701.6 226.5,702.6 228.0,703.6 229.5,704.5 231.0,705.4 232.5,706.3 234.0,707.1 235.5,708.0 237.0,708.9 238.5,709.8 240.0,710.6 241.5,711.5 243.0,712.4 244.5,713.3 246.0,714.1 247.5,714.9 249.0,715.6 250.5,716.3 252.0,716.9 253.5,717.6 255.0,718.2 256.5,718.7 258.0,719.2 259.5,719.6 261.0,719.9 262.5,720.1 264.0,720.4 265.5,720.6 267.0,720.9 268.5,721.3 270.0,721.7 271.5,722.1 273.0,722.6 274.5,723.0 276.0,723.4 277.5,723.7 279.0,724.0 280.5,724.2 282.0,724.5 283.5,724.7 285.0,724.9 286.5,724.9 288.0,724.8 289.5,724.5 291.0,724.2 292.5,723.9 294.0,723.6 295.5,723.2 297.0,722.8 298.5,722.4 300.0,721.9 301.5,721.4 303.0,720.8 304.5,720.0 306.0,719.1 307.5,718.2 309.0,717.4 310.5,716.8 312.0,716.4 313.5,716.1 315.0,715.8 316.5,715.4 318.0,715.0 319.5,714.4 321.0,713.7 322.5,712.9 324.0,712.2 325.5,711.4 327.0,710.7 328.5,709.9 330.0,709.2 331.5,708.4 333.0,707.7 334.5,706.9 336.0,706.0 337.5,705.0 339.0,704.0 340.5,702.9 342.0,701.7 343.5,700.6 345.0,699.5 346.5,698.3 348.0,697.2 349.5,696.0 351.0,694.8 352.5,693.6 354.0,692.4 355.5,691.3 357.0,690.2 358.5,689.1 360.0,688.1 361.5,687.0 363.0,685.9 364.5,684.6 366.0,683.3 367.5,682.0 369.0,680.6 370.5,679.2 372.0,677.8 373.5,676.3 375.0,674.8 376.5,673.3 378.0,671.9 379.5,670.5 381.0,669.2 382.5,668.0 384.0,666.9 385.5,665.8 387.0,664.8 388.5,663.8 390.0,662.9 391.5,662.0 393.0,661.0 394.5,659.9 396.0,658.4 397.5,656.7 399.0,654.8 400.5,653.0 402.0,651.1 403.5,649.2 405.0,647.5 406.5,645.9 408.0,644.6 409.5,643.6 411.0,642.7 412.5,641.8 414.0,641.0 415.5,640.2 417.0,639.6 418.5,639.1 420.0,638.6 421.5,638.1 423.0,637.6 424.5,637.2 426.0,636.9 427.5,636.8 429.0,636.6 430.5,636.5 432.0,636.4 433.5,636.3 435.0,636.2 436.5,636.1 438.0,636.1 439.5,636.1 441.0,636.1 442.5,636.1 444.0,636.1 445.5,636.1 447.0,636.1 448.5,636.2 450.0,636.6 451.5,637.5 453.0,638.6 454.5,639.9 456.0,641.3 457.5,642.7 459.0,644.2 460.5,645.6 462.0,647.1 463.5,648.4 465.0,649.5 466.5,650.4 468.0,651.3 469.5,652.2 471.0,653.1 472.5,654.0 474.0,654.9 475.5,655.8 477.0,656.7 478.5,657.7 480.0,658.6 481.5,659.7 483.0,660.9 484.5,662.1 486.0,663.3 487.5,664.6 489.0,666.1 490.5,667.8 492.0,669.7 493.5,671.6 495.0,673.9 496.5,676.4 498.0,679.2 499.5,681.9 501.0,684.4 502.5,686.5 504.0,688.4 505.5,690.3 507.0,692.2 508.5,694.0 510.0,695.9 511.5,697.8 513.0,700.1 514.5,703.6 516.0,708.5 517.5,714.1 519.0,719.2 520.5,722.8 522.0,725.5 523.5,727.7 525.0,729.8 526.5,731.7 528.0,733.6 529.5,735.4 531.0,737.2 532.5,739.0 534.0,741.0 535.5,743.0 537.0,745.1 538.5,747.2 540.0,749.3 541.5,751.3 543.0,753.2 544.5,755.0 546.0,756.8 547.5,758.6 549.0,760.5 550.5,762.5 552.0,764.6 553.5,766.9 555.0,769.1 556.5,771.2 558.0,773.2 559.5,775.2 561.0,777.1 562.5,778.9 564.0,780.8 565.5,782.7 567.0,784.6 568.5,786.4 570.0,788.1 571.5,789.8 573.0,791.3 574.5,792.8 576.0,794.3 577.5,795.8 579.0,797.3 580.5,798.8 582.0,800.3 583.5,801.8 585.0,803.3 586.5,804.8 588.0,806.3 589.5,807.8 591.0,809.2 592.5,810.5 594.0,811.9 595.5,813.2 597.0,814.5 598.5,815.7 600.0,816.9 601.5,818.1 603.0,819.0 604.5,819.8 606.0,820.3 607.5,820.3 609.0,819.9 610.5,819.3 612.0,818.6 613.5,818.0 615.0,817.7 616.5,817.5 618.0,817.4 619.5,817.2 621.0,817.1 622.5,817.0 624.0,816.9 625.5,816.7 627.0,816.6 628.5,816.5 630.0,816.4"/>
<polyline stroke="#008000" points="573.0,789.6 574.5,791.0 576.0,792.4 577.5,793.8 579.0,795.1 580.5,796.4 582.0,797.7 583.5,798.8 585.0,799.9 586.5,800.9 588.0,802.0 589.5,802.9 591.0,803.7 592.5,804.4 594.0,805.0 595.5,805.6 597.0,806.2 598.5,806.7 600.0,807.1 601.5,807.5 603.0,807.8 604.5,808.0 606.0,808.3 607.5,808.4 609.0,808.4 610.5,808.4 612.0,808.3 613.5,808.2 615.0,807.9 616.5,807.4 618.0,806.7 619.5,805.8 621.0,805.0 622.5,804.1 624.0,803.1 625.5,802.0 627.0,800.8 628.5,799.6 630.0,798.4"/>
<polyline stroke="#0000ff" points="619.5,847.3 621.0,847.3 622.5,847.3 624.0,847.3 625.5,847.3 627.0,847.1 628.5,846.9 630.0,846.6 631.5,846.2 633.0,845.8 634.5,845.2 636.0,844.3 637.5,843.0 639.0,841.6 640.5,840.1 642.0,838.5 643.5,836.9 645.0,835.2 646.5,833.5 648.0,831.9 649.5,830.3 651.0,828.8 652.5,827.3 654.0,825.8 655.5,824.3 657.0,822.8 658.5,821.3 660.0,819.8 661.5,818.3 663.0,816.8 664.5,815.3 666.0,813.7 667.5,812.0 669.0,810.0 670.5,807.7 672.0,805.1 673.5,802.5 675.0,800.0 676.5,797.7 678.0,795.4 679.5,793.2 681.0,790.9 682.5,788.7 684.0,786.4 685.5,784.2 687.0,781.8 688.5,779.3 690.0,776.7 691.5,774.1 693.0,771.6 694.5,769.2 696.0,766.8 697.5,764.2 699.0,761.4 700.5,758.4 702.0,755.4 703.5,752.4 705.0,749.2 706.5,746.1 708.0,742.9 709.5,739.6 711.0,736.3 712.5,732.9 714.0,729.4 715.5,725.9 717.0,722.1 718.5,718.2 720.0,714.1 721.5,709.9 723.0,705.5 724.5,700.9 726.0,696.2 727.5,691.4 729.0,686.6 730.5,682.0 732.0,677.8 733.5,673.6 735.0,669.3 736.5,664.5 738.0,659.3 739.5,653.7 741.0,647.8 742.5,641.8 744.0,635.8 745.5,629.8 747.0,623.8 748.5,617.8 750.0,611.8 751.5,605.8 753.0,599.7 754.5,593.6 756.0,587.4 757.5,581.3 759.0,575.4 760.5,569.7 762.0,564.1 763.5,558.2 765.0,552.0 766.5,545.6 768.0,539.2 769.5,533.1 771.0,527.1 772.5,521.4 774.0,515.8 775.5,510.3 777.0,505.0 778.5,499.8 780.0,494.8 781.5,489.9 783.0,485.2 784.5,480.6 786.0,476.1 787.5,471.6 789.0,467.1 790.5,462.7 792.0,458.4 793.5,454.2 795.0,450.2 796.5,446.5 798.0,442.2 799.5,437.1 801.0,431.1 802.5,425.3 804.0,420.1 805.5,415.7 807.0,411.5 808.5,407.4 810.0,403.3 811.5,399.3 813.0,395.3 814.5,391.4 816.0,387.5 817.5,383.9 819.0,380.3 820.5,376.8 822.0,373.3 823.5,369.8 825.0,366.4 826.5,363.3 828.0,360.5 829.5,357.8 831.0,355.4 832.5,353.1 834.0,351.0 835.5,349.0 837.0,347.2 838.5,345.6 840.0,344.1 841.5,342.8 843.0,341.5 844.5,340.3 846.0,339.3 847.5,338.3 849.0,337.4 850.5,336.6 852.0,336.1 853.5,335.8 855.0,335.6 856.5,335.6 858.0,335.7 859.5,336.0 861.0,336.4 862.5,336.9 864.0,337.6 865.5,338.4 867.0,339.4 868.5,340.5 870.0,341.7 871.5,343.0 873.0,344.6 874.5,346.2 876.0,348.0 877.5,350.0 879.0,352.4 880.5,355.2 882.0,358.4 883.5,361.9 885.0,365.8"/>
<polyline stroke="#ff00ff" points="619.5,875.7 621.0,876.3 622.5,876.9 624.0,877.1 625.5,876.8 627.0,876.1 628.5,875.2 630.0,874.1 631.5,872.9 633.0,871.5 634.5,870.0 636.0,868.3 637.5,866.7 639.0,865.3 640.5,864.0 642.0,862.8 643.5,861.8 645.0,860.8 646.5,860.1 648.0,859.5 649.5,859.1 651.0,858.6 652.5,858.2 654.0,857.7 655.5,857.3 657.0,856.8 658.5,856.4 660.0,855.9 661.5,855.1 663.0,854.1 664.5,852.8 666.0,851.4 667.5,849.9 669.0,848.5 670.5,847.1 672.0,845.8 673.5,844.5 675.0,843.3 676.5,842.3 678.0,841.5 679.5,840.7 681.0,840.0 682.5,839.3 684.0,838.7 685.5,838.1 687.0,837.6 688.5,837.2 690.0,836.7 691.5,836.3 693.0,836.0 694.5,835.6 696.0,835.3 697.5,835.0 699.0,834.7 700.5,834.4 702.0,834.1 703.5,833.8 705.0,833.5 706.5,833.2 708.0,832.9 709.5,832.6 711.0,832.3 712.5,831.9 714.0,831.6 715.5,831.3 717.0,830.9 718.5,830.6 720.0,830.3 721.5,830.0 723.0,829.7 724.5,829.5 726.0,829.2 727.5,829.0 729.0,828.7 730.5,828.3 732.0,827.6 733.5,826.7 735.0,825.4 736.5,824.1 738.0,822.8 739.5,821.5 741.0,820.4 742.5,819.4 744.0,818.6 745.5,818.0 747.0,817.4 748.5,816.8 750.0,816.2 751.5,815.6 753.0,814.7 754.5,813.5 756.0,811.6 757.5,809.4 759.0,806.9 760.5,804.5 762.0,802.0 763.5,799.4 765.0,796.4 766.5,793.2 768.0,789.8 769.5,786.3 771.0,782.6 772.5,778.8 774.0,774.8 775.5,770.6 777.0,766.4 778.5,762.0 780.0,757.5 781.5,752.8 783.0,747.8 784.5,742.4 786.0,736.6 787.5,730.3 789.0,723.7 790.5,716.8 792.0,709.5 793.5,702.1 795.0,694.6 796.5,687.1 798.0,679.6 799.5,672.1 801.0,664.6 802.5,657.1 804.0,649.6 805.5,642.1 807.0,634.6 808.5,627.1 810.0,619.6 811.5,611.9 813.0,603.5 814.5,594.0 816.0,583.8 817.5,573.7 819.0,564.0 820.5,554.5 822.0,544.3 823.5,533.6 825.0,522.6 826.5,511.6 828.0,500.6 829.5,489.9 831.0,479.5 832.5,470.0 834.0,461.3 835.5,453.1 837.0,444.8 838.5,436.2 840.0,427.5 841.5,418.6 843.0,409.7 844.5,400.7 846.0,391.7 847.5,382.7 849.0,373.6 850.5,364.4 852.0,354.8 853.5,344.8 855.0,334.5 856.5,324.4 858.0,314.8 859.5,305.3 861.0,295.8 862.5,286.3 864.0,277.4 865.5,268.9 867.0,261.0 868.5,253.5 870.0,246.6 871.5,240.1 873.0,233.9 874.5,227.8 876.0,221.8 877.5,215.6 879.0,209.3 880.5,202.9 882.0,196.4 883.5,190.3 885.0,184.5"/>
<polyline stroke="#008000" points="619.5,805.8 621.0,805.0 622.5,804.1 624.0,803.1 625.5,802.0 627.0,800.8 628.5,799.6 630.0,798.4 631.5,797.1 633.0,795.7 634.5,794.3 636.0,792.8 637.5,791.3 639.0,789.8 640.5,788.3 642.0,786.8 643.5,785.3 645.0,783.8 646.5,782.3 648.0,780.8 649.5,779.3 651.0,777.8 652.5,776.3 654.0,774.8 655.5,773.3 657.0,771.8 658.5,770.2 660.0,768.6 661.5,767.0 663.0,765.4 664.5,763.7 666.0,762.0 667.5,760.2 669.0,758.5 670.5,756.8 672.0,755.0 673.5,753.1 675.0,751.0 676.5,748.9 678.0,746.7 679.5,744.5 681.0,742.4 682.5,740.3 684.0,738.3 685.5,736.3 687.0,734.4 688.5,732.5 690.0,730.6 691.5,728.5 693.0,726.3 694.5,724.0 696.0,721.6 697.5,719.2 699.0,716.8 700.5,714.5 702.0,712.2 703.5,709.9 705.0,707.7 706.5,705.4 708.0,703.0 709.5,700.6 711.0,698.0 712.5,695.4 714.0,692.7 715.5,690.0 717.0,687.3 718.5,684.5 720.0,681.6 721.5,678.6 723.0,675.5 724.5,672.2 726.0,668.9 727.5,665.5 729.0,662.0 730.5,658.7 732.0,655.4 733.5,652.3 735.0,649.3 736.5,646.3 738.0,643.3 739.5,640.3 741.0,637.3 742.5,634.3 744.0,631.3 745.5,628.3 747.0,625.3 748.5,622.3 750.0,619.3 751.5,616.3 753.0,613.3 754.5,610.3 756.0,607.3 757.5,604.2 759.0,601.0 760.5,597.5 762.0,593.7 763.5,589.9 765.0,586.4 766.5,583.2 768.0,580.4 769.5,577.8 771.0,575.2 772.5,572.5 774.0,569.9 775.5,567.3 777.0,564.7 778.5,562.2 780.0,559.8 781.5,557.5 783.0,555.3 784.5,553.0 786.0,550.8 787.5,548.5 789.0,546.3 790.5,544.1 792.0,542.1 793.5,540.2 795.0,538.4 796.5,536.7 798.0,535.1 799.5,533.4 801.0,531.7 802.5,530.0 804.0,528.3 805.5,526.7 807.0,525.2 808.5,523.7 810.0,522.2 811.5,520.8 813.0,519.7 814.5,518.6 816.0,517.7 817.5,516.7 819.0,515.6 820.5,514.4 822.0,513.1 823.5,511.7 825.0,510.3 826.5,508.7 828.0,507.1 829.5,505.6 831.0,504.5 832.5,503.7 834.0,503.1 835.5,502.7 837.0,502.3 838.5,502.1 840.0,502.0 841.5,502.0 843.0,501.9 844.5,501.9 846.0,501.9 847.5,501.9 849.0,501.9 850.5,502.0 852.0,502.1 853.5,502.4 855.0,503.0 856.5,503.8 858.0,504.6 859.5,505.6 861.0,506.6 862.5,507.8 864.0,509.1 865.5,510.5 867.0,511.8 868.5,513.3 870.0,514.7 871.5,516.2 873.0,517.6 874.5,519.0 876.0,520.2 877.5,521.3 879.0,522.6 880.5,524.2 882.0,526.2 883.5,528.6 885.0,531.1"/>
<polyline stroke="#00a8c8" stroke-width="6.8" points="619.5,817.2 621.0,817.1 622.5,817.0 624.0,816.9 625.5,816.7 627.0,816.6 628.5,816.5 630.0,816.4 631.5,816.2 633.0,816.0 634.5,815.8 636.0,815.5 637.5,815.1 639.0,814.7 640.5,814.3 642.0,813.9 643.5,813.4 645.0,812.7 646.5,811.8 648.0,810.9 649.5,810.1 651.0,809.2 652.5,808.4 654.0,807.8 655.5,807.1 657.0,806.5 658.5,805.9 660.0,805.2 661.5,804.2 663.0,803.2 664.5,802.1 666.0,801.0 667.5,799.8 669.0,798.6 670.5,797.4 672.0,796.2 673.5,795.0 675.0,793.7 676.5,792.3 678.0,790.9 679.5,789.4 681.0,787.9 682.5,786.4 684.0,784.7 685.5,783.0 687.0,781.3 688.5,779.5 690.0,777.6 691.5,775.7 693.0,773.7 694.5,771.5 696.0,769.3 697.5,767.5 699.0,766.1 700.5,765.0 702.0,763.5 703.5,761.6 705.0,759.2 706.5,756.6 708.0,754.0 709.5,751.2 711.0,748.3 712.5,745.3 714.0,742.3 715.5,739.3 717.0,736.3 718.5,733.3 720.0,730.2 721.5,727.0 723.0,723.7 724.5,720.3 726.0,716.8 727.5,713.4 729.0,709.9 730.5,706.4 732.0,702.9 733.5,699.4 735.0,695.9 736.5,692.4 738.0,688.9 739.5,685.3 741.0,681.6 742.5,677.7 744.0,673.5 745.5,669.2 747.0,665.0 748.5,660.9 750.0,656.9 751.5,652.9 753.0,648.9 754.5,644.9 756.0,640.8 757.5,636.7 759.0,632.5 760.5,628.4 762.0,624.4 763.5,620.6 765.0,616.9 766.5,613.3 768.0,609.8 769.5,606.4 771.0,602.9 772.5,599.2 774.0,595.2 775.5,591.1 777.0,587.1 778.5,583.3 780.0,579.7 781.5,576.2 783.0,572.7 784.5,569.2 786.0,565.7 787.5,562.2 789.0,558.7 790.5,555.2 792.0,551.7 793.5,548.2 795.0,544.7 796.5,541.2 798.0,537.7 799.5,534.2 801.0,530.8 802.5,527.4 804.0,524.1 805.5,520.8 807.0,517.6 808.5,514.3 810.0,511.1 811.5,508.0 813.0,505.0 814.5,502.2 816.0,499.5 817.5,497.0 819.0,494.6 820.5,492.3 822.0,490.2 823.5,488.1 825.0,486.2 826.5,484.4 828.0,482.8 829.5,481.2 831.0,479.8 832.5,478.5 834.0,477.3 835.5,476.2 837.0,475.2 838.5,474.2 840.0,473.2 841.5,472.3 843.0,471.5 844.5,470.7 846.0,470.1 847.5,469.5 849.0,469.0 850.5,468.5 852.0,468.2 853.5,468.0 855.0,467.9 856.5,467.8 858.0,467.9 859.5,468.2 861.0,468.6 862.5,469.0 864.0,469.6 865.5,470.4 867.0,471.3 868.5,472.2 870.0,473.3 871.5,474.6 873.0,476.0 874.5,477.5 876.0,479.2 877.5,481.1 879.0,483.3 880.5,485.8 882.0,488.4 883.5,491.3 885.0,494.2"/>
<polyline stroke="#00a8c8" stroke-width="6.8" points="874.5,477.5 876.0,479.2 877.5,481.1 879.0,483.3 880.5,485.8 882.0,488.4 883.5,491.3 885.0,494.2 886.5,497.2 888.0,500.2 889.5,503.2 891.0,506.3 892.5,509.5 894.0,512.8 895.5,516.4 897.0,520.2 898.5,524.2 900.0,528.2 901.5,532.2 903.0,536.0 904.5,539.8 906.0,543.7 907.5,547.7 909.0,551.7 910.5,555.7 912.0,559.7 913.5,563.7 915.0,567.7 916.5,571.7 918.0,575.7 919.5,579.7 921.0,583.7 922.5,587.6 924.0,591.5 925.5,595.2 927.0,598.8 928.5,602.3 930.0,605.4 931.5,607.8 933.0,609.7 934.5,611.9 936.0,614.7 937.5,618.1 939.0,621.6 940.5,625.2 942.0,628.7 943.5,632.2 945.0,635.7 946.5,639.2 948.0,642.7 949.5,646.2 951.0,649.7 952.5,653.2 954.0,656.7 955.5,660.1 957.0,663.5 958.5,666.8 960.0,669.9 961.5,672.9 963.0,675.7 964.5,678.4 966.0,681.0 967.5,683.5 969.0,686.1 970.5,688.7 972.0,691.3 973.5,693.8 975.0,696.3 976.5,698.7 978.0,700.9 979.5,703.1 981.0,705.2 982.5,707.0 984.0,708.6 985.5,710.1 987.0,711.6 988.5,713.1 990.0,714.6 991.5,716.1 993.0,717.6 994.5,718.9 996.0,720.2 997.5,721.4 999.0,722.5 1000.5,723.5 1002.0,724.5 1003.5,725.3 1005.0,726.1 1006.5,726.8 1008.0,727.6 1009.5,728.3 1011.0,729.1 1012.5,729.8 1014.0,730.6 1015.5,731.3 1017.0,732.0 1018.5,732.7 1020.0,733.2 1021.5,733.7 1023.0,734.1 1024.5,734.5 1026.0,734.9 1027.5,735.3 1029.0,735.6 1030.5,735.8 1032.0,736.1 1033.5,736.3 1035.0,736.5 1036.5,736.7 1038.0,736.9 1039.5,737.0 1041.0,737.1 1042.5,737.1 1044.0,737.2 1045.5,737.3 1047.0,737.4 1048.5,737.5 1050.0,737.6 1051.5,737.6 1053.0,737.7 1054.5,737.8 1056.0,737.9 1057.5,738.0 1059.0,738.1 1060.5,738.2 1062.0,738.2 1063.5,738.3 1065.0,738.3 1066.5,738.3 1068.0,738.1 1069.5,737.9 1071.0,737.7 1072.5,737.5 1074.0,737.3 1075.5,737.1 1077.0,737.1 1078.5,737.1 1080.0,737.1 1081.5,737.2 1083.0,737.2 1084.5,737.3 1086.0,737.4 1087.5,737.4 1089.0,737.5 1090.5,737.5 1092.0,737.6 1093.5,737.6 1095.0,737.7 1096.5,737.7 1098.0,737.8 1099.5,737.8 1101.0,737.9 1102.5,737.9 1104.0,738.0 1105.5,738.0 1107.0,738.1 1108.5,738.1 1110.0,738.2 1111.5,738.2 1113.0,738.3 1114.5,738.3 1116.0,738.4 1117.5,738.5 1119.0,738.5 1120.5,738.6 1122.0,738.6 1123.5,738.7 1125.0,738.7 1126.5,738.7 1128.0,738.7 1129.5,738.7 1131.0,738.7 1132.5,738.7 1134.0,738.7 1135.5,738.7 1137.0,738.7 1138.5,738.7 1140.0,738.7 1141.5,738.7 1143.0,738.7 1144.5,738.7 1146.0,738.7 1147.5,738.7 1149.0,738.7 1150.5,738.7 1152.0,738.7 1153.5,738.7 1155.0,738.7 1156.5,738.7 1158.0,738.7 1159.5,738.7 1161.0,738.7 1162.5,738.7 1164.0,738.7 1165.5,738.6 1167.0,738.5 1168.5,738.4 1170.0,738.3 1171.5,738.2 1173.0,738.1 1174.5,738.0 1176.0,737.9 1177.5,737.8 1179.0,737.7 1180.5,737.6 1182.0,737.4 1183.5,737.3 1185.0,737.2 1186.5,737.1 1188.0,737.1 1189.5,737.0 1191.0,737.0 1192.5,737.0 1194.0,737.0 1195.5,737.0 1197.0,737.0 1198.5,737.0 1200.0,737.0 1201.5,737.0 1203.0,737.0 1204.5,737.0 1206.0,737.0 1207.5,737.0 1209.0,737.0 1210.5,737.0 1212.0,737.0 1213.5,737.0 1215.0,737.0 1216.5,737.0 1218.0,737.0 1219.5,737.0 1221.0,737.0 1222.5,737.0 1224.0,737.0 1225.5,737.0 1227.0,737.0 1228.5,737.0 1230.0,737.0 1231.5,737.0 1233.0,737.0 1234.5,737.0 1236.0,737.0 1237.5,737.0 1239.0,737.0 1240.5,737.0 1242.0,737.0 1243.5,737.0 1245.0,737.0 1246.5,737.0 1248.0,737.0 1249.5,737.0 1251.0,737.0 1252.5,737.0 1254.0,737.0 1255.5,737.0 1257.0,737.0 1258.5,737.0 1260.0,737.0 1261.5,737.0 1263.0,737.0 1264.5,737.0 1266.0,737.0 1267.5,737.0 1269.0,737.0 1270.5,737.0"/>
<polyline stroke="#008000" points="874.5,519.0 876.0,520.2 877.5,521.3 879.0,522.6 880.5,524.2 882.0,526.2 883.5,528.6 885.0,531.1 886.5,533.6 888.0,536.1 889.5,538.6 891.0,541.1 892.5,543.6 894.0,546.2 895.5,549.0 897.0,552.0 898.5,555.3 900.0,558.7 901.5,562.1 903.0,565.6 904.5,569.2 906.0,572.7 907.5,576.2 909.0,579.7 910.5,583.0 912.0,586.3 913.5,589.4 915.0,592.4 916.5,595.4 918.0,598.4 919.5,601.5 921.0,604.4 922.5,607.1 924.0,609.5 925.5,612.0 927.0,614.9 928.5,618.2 930.0,621.5 931.5,624.6 933.0,627.7 934.5,630.9 936.0,634.2 937.5,637.6 939.0,641.1 940.5,644.6 942.0,648.1 943.5,651.5 945.0,654.8 946.5,658.0 948.0,660.9 949.5,663.8 951.0,666.5 952.5,669.0 954.0,671.3 955.5,673.5 957.0,675.5 958.5,677.4 960.0,679.4 961.5,681.5 963.0,683.8 964.5,686.2 966.0,688.6 967.5,691.0 969.0,693.3 970.5,695.5 972.0,697.5 973.5,699.3 975.0,700.7 976.5,701.9 978.0,703.0 979.5,704.0 981.0,705.0 982.5,705.9 984.0,706.8 985.5,707.7 987.0,708.6 988.5,709.5 990.0,710.4 991.5,711.3 993.0,712.2 994.5,713.1 996.0,714.0 997.5,714.9 999.0,715.8 1000.5,716.7 1002.0,717.6 1003.5,718.5 1005.0,719.4 1006.5,720.3 1008.0,721.2 1009.5,722.1 1011.0,723.0 1012.5,723.9 1014.0,724.7 1015.5,725.5 1017.0,726.2 1018.5,727.0 1020.0,727.7 1021.5,728.3 1023.0,728.9 1024.5,729.4 1026.0,729.8 1027.5,730.3 1029.0,730.7 1030.5,731.1 1032.0,731.4 1033.5,731.7 1035.0,732.0 1036.5,732.3 1038.0,732.5 1039.5,732.7 1041.0,732.9 1042.5,733.1 1044.0,733.2 1045.5,733.4 1047.0,733.5 1048.5,733.7 1050.0,733.8 1051.5,734.0 1053.0,734.1 1054.5,734.3 1056.0,734.5 1057.5,734.7 1059.0,734.9 1060.5,735.1 1062.0,735.4 1063.5,735.6 1065.0,735.8 1066.5,736.0 1068.0,736.3 1069.5,736.5 1071.0,736.7 1072.5,737.0 1074.0,737.2 1075.5,737.4 1077.0,737.7 1078.5,737.9 1080.0,738.1 1081.5,738.2 1083.0,738.2 1084.5,738.2 1086.0,738.2 1087.5,738.2 1089.0,738.2 1090.5,738.2 1092.0,738.2 1093.5,738.2 1095.0,738.2 1096.5,738.2 1098.0,738.2 1099.5,738.2 1101.0,738.2 1102.5,738.2 1104.0,738.2 1105.5,738.2 1107.0,738.2 1108.5,738.2 1110.0,738.2 1111.5,738.2 1113.0,738.2 1114.5,738.2 1116.0,738.2 1117.5,738.2 1119.0,738.2 1120.5,738.2 1122.0,738.2 1123.5,738.1 1125.0,738.1 1126.5,738.0 1128.0,737.9 1129.5,737.9 1131.0,737.8 1132.5,737.8 1134.0,737.7 1135.5,737.6 1137.0,737.6 1138.5,737.5 1140.0,737.4 1141.5,737.4 1143.0,737.3 1144.5,737.3 1146.0,737.2 1147.5,737.1 1149.0,737.1 1150.5,737.0 1152.0,737.0 1153.5,737.0 1155.0,736.9 1156.5,736.9 1158.0,736.9 1159.5,736.9 1161.0,736.9 1162.5,736.9 1164.0,736.9 1165.5,736.8 1167.0,736.8 1168.5,736.8 1170.0,736.8 1171.5,736.8 1173.0,736.8 1174.5,736.8 1176.0,736.7 1177.5,736.7 1179.0,736.7 1180.5,736.7 1182.0,736.7 1183.5,736.7 1185.0,736.7 1186.5,736.6 1188.0,736.6 1189.5,736.6 1191.0,736.6 1192.5,736.6 1194.0,736.6 1195.5,736.6 1197.0,736.5 1198.5,736.5 1200.0,736.5 1201.5,736.5 1203.0,736.5 1204.5,736.5 1206.0,736.5 1207.5,736.4 1209.0,736.4 1210.5,736.4 1212.0,736.4 1213.5,736.4 1215.0,736.4 1216.5,736.4 1218.0,736.3 1219.5,736.3 1221.0,736.3 1222.5,736.3 1224.0,736.3 1225.5,736.3 1227.0,736.3 1228.5,736.3 1230.0,736.2 1231.5,736.2 1233.0,736.2 1234.5,736.2 1236.0,736.2 1237.5,736.2 1239.0,736.2 1240.5,736.2 1242.0,736.2 1243.5,736.2 1245.0,736.2 1246.5,736.1 1248.0,736.1 1249.5,736.1 1251.0,736.1 1252.5,736.1 1254.0,736.1 1255.5,736.1 1257.0,736.1 1258.5,736.1 1260.0,736.1 1261.5,736.1 1263.0,736.1 1264.5,736.0 1266.0,736.0 1267.5,736.0 1269.0,736.0 1270.5,736.0"/>
<polyline stroke="#0000ff" points="874.5,346.2 876.0,348.0 877.5,350.0 879.0,352.4 880.5,355.2 882.0,358.4 883.5,361.9 885.0,365.8 886.5,369.9 888.0,374.1 889.5,378.4 891.0,382.8 892.5,387.3 894.0,392.0 895.5,396.5 897.0,401.0 898.5,405.3 900.0,409.8 901.5,414.4 903.0,419.4 904.5,424.8 906.0,430.6 907.5,436.9 909.0,443.4 910.5,450.3 912.0,457.6 913.5,464.9 915.0,471.8 916.5,477.4 918.0,482.2 919.5,487.0 921.0,492.3 922.5,498.0 924.0,503.5 925.5,508.8 927.0,514.0 928.5,519.3 930.0,525.0 931.5,530.8 933.0,536.8 934.5,542.8 936.0,548.8 937.5,554.8 939.0,560.8 940.5,566.8 942.0,572.8 943.5,578.9 945.0,585.1 946.5,591.5 948.0,598.0 949.5,604.2 951.0,609.5 952.5,613.8 954.0,617.6 955.5,621.2 957.0,624.7 958.5,628.2 960.0,631.7 961.5,635.2 963.0,638.7 964.5,642.2 966.0,645.7 967.5,649.2 969.0,652.7 970.5,656.2 972.0,659.7 973.5,663.1 975.0,666.4 976.5,669.5 978.0,672.5 979.5,675.2 981.0,677.8 982.5,680.1 984.0,682.4 985.5,684.6 987.0,686.9 988.5,689.1 990.0,691.4 991.5,693.6 993.0,695.7 994.5,697.7 996.0,699.6 997.5,701.5 999.0,703.4 1000.5,705.2 1002.0,707.1 1003.5,709.0 1005.0,710.8 1006.5,712.5 1008.0,713.9 1009.5,715.3 1011.0,716.6 1012.5,717.8 1014.0,718.8 1015.5,719.6 1017.0,720.4 1018.5,721.1 1020.0,721.8 1021.5,722.4 1023.0,722.9 1024.5,723.2 1026.0,723.5 1027.5,723.8 1029.0,724.1 1030.5,724.4 1032.0,724.7 1033.5,725.0 1035.0,725.3 1036.5,725.6 1038.0,725.8 1039.5,725.9 1041.0,725.9 1042.5,725.9 1044.0,725.9 1045.5,725.9 1047.0,725.9 1048.5,725.9 1050.0,725.9 1051.5,725.9 1053.0,726.0 1054.5,726.2 1056.0,726.7 1057.5,727.3 1059.0,728.0 1060.5,728.8 1062.0,729.6 1063.5,730.4 1065.0,731.1 1066.5,731.5 1068.0,731.8 1069.5,731.9 1071.0,731.9 1072.5,732.0 1074.0,732.0 1075.5,732.0 1077.0,732.0 1078.5,732.0 1080.0,732.0 1081.5,732.0 1083.0,732.0 1084.5,732.0 1086.0,732.0 1087.5,732.0 1089.0,732.0 1090.5,732.0 1092.0,732.1 1093.5,732.1 1095.0,732.2 1096.5,732.3 1098.0,732.4 1099.5,732.5 1101.0,732.5 1102.5,732.6 1104.0,732.7 1105.5,732.8 1107.0,732.9 1108.5,733.0 1110.0,733.0 1111.5,733.1 1113.0,733.1 1114.5,733.1 1116.0,733.0 1117.5,732.9 1119.0,732.8 1120.5,732.7 1122.0,732.6 1123.5,732.5 1125.0,732.4 1126.5,732.3 1128.0,732.2 1129.5,732.1 1131.0,732.1 1132.5,732.1 1134.0,732.2 1135.5,732.4 1137.0,732.5 1138.5,732.6 1140.0,732.8 1141.5,732.9 1143.0,733.0 1144.5,733.2 1146.0,733.3 1147.5,733.4 1149.0,733.6 1150.5,733.7 1152.0,733.7 1153.5,733.8 1155.0,733.8 1156.5,733.9 1158.0,733.9 1159.5,734.0 1161.0,734.0 1162.5,734.1 1164.0,734.1 1165.5,734.2 1167.0,734.2 1168.5,734.3 1170.0,734.3 1171.5,734.3 1173.0,734.4 1174.5,734.4 1176.0,734.4 1177.5,734.4 1179.0,734.4 1180.5,734.3 1182.0,734.3 1183.5,734.3 1185.0,734.2 1186.5,734.2 1188.0,734.1 1189.5,734.1 1191.0,734.0 1192.5,734.0 1194.0,733.9 1195.5,733.9 1197.0,733.9 1198.5,733.8 1200.0,733.8 1201.5,733.8 1203.0,733.8 1204.5,733.8 1206.0,733.9 1207.5,733.9 1209.0,733.9 1210.5,734.0 1212.0,734.0 1213.5,734.0 1215.0,734.1 1216.5,734.1 1218.0,734.2 1219.5,734.2 1221.0,734.2 1222.5,734.3 1224.0,734.3 1225.5,734.4 1227.0,734.4 1228.5,734.4 1230.0,734.4 1231.5,734.4 1233.0,734.3 1234.5,734.2 1236.0,734.1 1237.5,734.0 1239.0,733.9 1240.5,733.9 1242.0,733.8 1243.5,733.7 1245.0,733.6 1246.5,733.5 1248.0,733.4 1249.5,733.3 1251.0,733.2 1252.5,733.2 1254.0,733.1 1255.5,733.0 1257.0,732.9 1258.5,732.8 1260.0,732.7 1261.5,732.6 1263.0,732.5 1264.5,732.4 1266.0,732.4 1267.5,732.3 1269.0,732.2 1270.5,732.1"/>
<polyline stroke="#ff00ff" points="874.5,227.8 876.0,221.8 877.5,215.6 879.0,209.3 880.5,202.9 882.0,196.4 883.5,190.3 885.0,184.5 886.5,179.1 888.0,174.2 889.5,169.9 891.0,166.1 892.5,162.4 894.0,158.7 895.5,154.8 897.0,150.8 898.5,146.8 900.0,142.8 901.5,138.8 903.0,134.8 904.5,130.7 906.0,126.5 907.5,122.2 909.0,118.0 910.5,114.2 912.0,111.3 913.5,109.0 915.0,107.2 916.5,105.6 918.0,104.1 919.5,102.6 921.0,101.2 922.5,100.3 924.0,100.0 925.5,100.5 927.0,101.5 928.5,102.8 930.0,104.0 931.5,105.1 933.0,106.3 934.5,107.5 936.0,108.8 937.5,110.3 939.0,112.4 940.5,115.2 942.0,118.9 943.5,123.4 945.0,128.0 946.5,132.5 948.0,136.9 949.5,141.4 951.0,146.1 952.5,151.0 954.0,156.1 955.5,161.3 957.0,166.6 958.5,172.0 960.0,177.5 961.5,183.4 963.0,189.3 964.5,195.5 966.0,202.2 967.5,210.1 969.0,219.5 970.5,230.3 972.0,241.5 973.5,252.2 975.0,261.8 976.5,270.7 978.0,279.9 979.5,289.6 981.0,299.8 982.5,309.3 984.0,317.7 985.5,325.3 987.0,332.6 988.5,340.0 990.0,347.6 991.5,355.2 993.0,363.2 994.5,371.5 996.0,380.9 997.5,392.0 999.0,405.0 1000.5,418.9 1002.0,432.2 1003.5,444.0 1005.0,454.5 1006.5,464.0 1008.0,472.8 1009.5,480.8 1011.0,488.4 1012.5,495.9 1014.0,503.4 1015.5,510.9 1017.0,518.4 1018.5,525.8 1020.0,532.9 1021.5,539.6 1023.0,545.9 1024.5,552.0 1026.0,558.0 1027.5,564.0 1029.0,570.0 1030.5,576.0 1032.0,582.1 1033.5,588.5 1035.0,595.0 1036.5,601.7 1038.0,608.2 1039.5,614.3 1041.0,619.9 1042.5,624.8 1044.0,629.1 1045.5,633.1 1047.0,636.8 1048.5,640.5 1050.0,643.9 1051.5,647.1 1053.0,650.0 1054.5,652.7 1056.0,655.4 1057.5,658.2 1059.0,661.3 1060.5,664.7 1062.0,668.3 1063.5,672.0 1065.0,675.7 1066.5,678.9 1068.0,681.3 1069.5,683.3 1071.0,685.1 1072.5,686.8 1074.0,688.6 1075.5,690.4 1077.0,692.2 1078.5,694.0 1080.0,695.8 1081.5,697.6 1083.0,699.4 1084.5,701.2 1086.0,702.9 1087.5,704.5 1089.0,705.7 1090.5,706.7 1092.0,707.5 1093.5,708.3 1095.0,709.0 1096.5,709.8 1098.0,710.5 1099.5,711.2 1101.0,711.9 1102.5,712.6 1104.0,713.2 1105.5,713.8 1107.0,714.4 1108.5,715.0 1110.0,715.6 1111.5,716.2 1113.0,716.7 1114.5,717.3 1116.0,717.7 1117.5,718.2 1119.0,718.6 1120.5,719.1 1122.0,719.5 1123.5,720.0 1125.0,720.4 1126.5,720.8 1128.0,721.1 1129.5,721.4 1131.0,721.7 1132.5,722.0 1134.0,722.3 1135.5,722.6 1137.0,722.9 1138.5,723.3 1140.0,723.7 1141.5,724.1 1143.0,724.6 1144.5,725.0 1146.0,725.5 1147.5,725.9 1149.0,726.3 1150.5,726.7 1152.0,726.9 1153.5,727.0 1155.0,727.1 1156.5,727.1 1158.0,727.2 1159.5,727.2 1161.0,727.3 1162.5,727.3 1164.0,727.3 1165.5,727.4 1167.0,727.4 1168.5,727.5 1170.0,727.5 1171.5,727.6 1173.0,727.6 1174.5,727.7 1176.0,727.7 1177.5,727.8 1179.0,727.9 1180.5,728.0 1182.0,728.1 1183.5,728.2 1185.0,728.3 1186.5,728.4 1188.0,728.5 1189.5,728.6 1191.0,728.8 1192.5,728.9 1194.0,729.0 1195.5,729.1 1197.0,729.2 1198.5,729.3 1200.0,729.4 1201.5,729.4 1203.0,729.4 1204.5,729.4 1206.0,729.3 1207.5,729.3 1209.0,729.3 1210.5,729.2 1212.0,729.2 1213.5,729.1 1215.0,729.1 1216.5,729.1 1218.0,729.0 1219.5,729.0 1221.0,728.9 1222.5,728.9 1224.0,728.9 1225.5,728.8 1227.0,728.8 1228.5,728.8 1230.0,728.8 1231.5,728.8 1233.0,728.9 1234.5,729.1 1236.0,729.2 1237.5,729.3 1239.0,729.4 1240.5,729.5 1242.0,729.5 1243.5,729.5 1245.0,729.5 1246.5,729.5 1248.0,729.5 1249.5,729.5 1251.0,729.5 1252.5,729.5 1254.0,729.5 1255.5,729.5 1257.0,729.5 1258.5,729.5 1260.0,729.5 1261.5,729.5 1263.0,729.5 1264.5,729.5 1266.0,729.5 1267.5,729.5 1269.0,729.5 1270.5,729.5"/>
</g>
<line x1="191.0" y1="736.8" x2="1272.1" y2="736.8" stroke="#111" stroke-width="2.5"/>
<g stroke="#000" fill="none">
<line x1="174" y1="25.9" x2="1274.6999999999998" y2="25.9" stroke-width="5.2"/>
<line x1="191.0" y1="23.299999999999997" x2="191.0" y2="914" stroke-width="5"/>
<line x1="1272.1" y1="23.299999999999997" x2="1272.1" y2="914" stroke-width="5.2"/>
<line x1="191.0" y1="895.5" x2="1272.1" y2="895.5" stroke-width="3.2"/>
<line x1="181.3" y1="69.8" x2="191.0" y2="69.8" stroke-width="4.4"/>
<line x1="174" y1="113.7" x2="191.0" y2="113.7" stroke-width="4.6"/>
<line x1="181.3" y1="160.1" x2="191.0" y2="160.1" stroke-width="4.4"/>
<line x1="174" y1="204.0" x2="191.0" y2="204.0" stroke-width="4.6"/>
<line x1="181.3" y1="247.6" x2="191.0" y2="247.6" stroke-width="4.7"/>
<line x1="174" y1="291.9" x2="191.0" y2="291.9" stroke-width="5.0"/>
<line x1="181.3" y1="335.7" x2="191.0" y2="335.7" stroke-width="4.9"/>
<line x1="174" y1="380.6" x2="191.0" y2="380.6" stroke-width="2.9"/>
<line x1="181.3" y1="424.9" x2="191.0" y2="424.9" stroke-width="2.8"/>
<line x1="174" y1="469.1" x2="191.0" y2="469.1" stroke-width="2.9"/>
<line x1="181.3" y1="513.8" x2="191.0" y2="513.8" stroke-width="4.7"/>
<line x1="174" y1="558.9" x2="191.0" y2="558.9" stroke-width="2.7"/>
<line x1="181.3" y1="603.2" x2="191.0" y2="603.2" stroke-width="2.9"/>
<line x1="174" y1="648.1" x2="191.0" y2="648.1" stroke-width="4.7"/>
<line x1="181.3" y1="692.1" x2="191.0" y2="692.1" stroke-width="4.7"/>
<line x1="174" y1="736.1" x2="191.0" y2="736.1" stroke-width="4.7"/>
<line x1="181.3" y1="779.9" x2="191.0" y2="779.9" stroke-width="4.4"/>
<line x1="174" y1="823.8" x2="191.0" y2="823.8" stroke-width="4.6"/>
<line x1="181.3" y1="870.2" x2="191.0" y2="870.2" stroke-width="4.4"/>
<line x1="281.1" y1="895.5" x2="281.1" y2="906.6" stroke-width="4.4"/>
<line x1="371.2" y1="895.5" x2="371.2" y2="914" stroke-width="4.2"/>
<line x1="461.3" y1="895.5" x2="461.3" y2="906.6" stroke-width="4.4"/>
<line x1="551.4" y1="895.5" x2="551.4" y2="914" stroke-width="4.2"/>
<line x1="641.5" y1="895.5" x2="641.5" y2="906.6" stroke-width="4.4"/>
<line x1="731.5" y1="895.5" x2="731.5" y2="914" stroke-width="3.2"/>
<line x1="821.6" y1="895.5" x2="821.6" y2="906.6" stroke-width="4.4"/>
<line x1="911.7" y1="895.5" x2="911.7" y2="914" stroke-width="4.2"/>
<line x1="1001.8" y1="895.5" x2="1001.8" y2="906.6" stroke-width="4.4"/>
<line x1="1091.9" y1="895.5" x2="1091.9" y2="914" stroke-width="4.2"/>
<line x1="1182.0" y1="895.5" x2="1182.0" y2="906.6" stroke-width="4.4"/>
</g>
<g font-family="'Liberation Sans', Arial, sans-serif" fill="#000" stroke="#000" stroke-width="0.7" stroke-linejoin="round">
<g font-size="38" text-anchor="end">
<text transform="translate(160.8,22.2) scale(1,1.000)" y="13.4">400</text>
<text transform="translate(160.8,111.4) scale(1,1.132)" y="13.4">350</text>
<text transform="translate(160.8,201.9) scale(1,1.091)" y="13.4">300</text>
<text transform="translate(160.8,289.9) scale(1,1.094)" y="13.4">250</text>
<text transform="translate(160.8,378.5) scale(1,0.962)" y="13.4">200</text>
<text transform="translate(160.8,466.4) scale(1,1.023)" y="13.4">150</text>
<text transform="translate(160.8,556.7) scale(1,1.023)" y="13.4">100</text>
<text transform="translate(160.8,644.3) scale(1,1.049)" y="13.4">50</text>
<text transform="translate(160.8,733.5) scale(1,1.087)" y="13.4">0</text>
<text transform="translate(160.8,823.3) scale(1,1.091)" y="13.4">-50</text>
</g>
<g font-size="38" text-anchor="middle">
<text transform="translate(190.3,953.4) scale(1.02,1.01)">220</text>
<text transform="translate(370.6,953.4) scale(1.02,1.01)">240</text>
<text transform="translate(551.3,953.4) scale(1.02,1.01)">260</text>
<text transform="translate(731.8,953.4) scale(1.02,1.01)">280</text>
<text transform="translate(912.5,953.4) scale(1.02,1.01)">300</text>
<text transform="translate(1093.4,953.4) scale(1.02,1.01)">320</text>
<text transform="translate(1273.8,953.4) scale(1.02,1.01)">340</text>
</g>
<text transform="translate(732.3,1023) scale(0.979,1)" font-size="47" text-anchor="middle">Wavelenght, nm</text>
<g transform="rotate(-90) scale(0.958,1)">
<text x="-756.8" y="49.6" font-size="48.02" letter-spacing="0">Circular</text>
<text x="-580.9" y="49.6" font-size="48.02" letter-spacing="-0.4">Dichroism,</text>
<text x="-345.2" y="49.6" font-size="48.02" letter-spacing="0">ε</text>
<text x="-310.9" y="49.6" font-size="48.02" letter-spacing="0">M</text>
<text x="-271.9" y="27.0" font-size="29.23" letter-spacing="0">-1</text>
<text x="-233.3" y="49.6" font-size="48.02" letter-spacing="0">cm</text>
<text x="-171.0" y="27.0" font-size="29.23" letter-spacing="0">-1</text>
</g>
</g>
</svg>
</body></html>
